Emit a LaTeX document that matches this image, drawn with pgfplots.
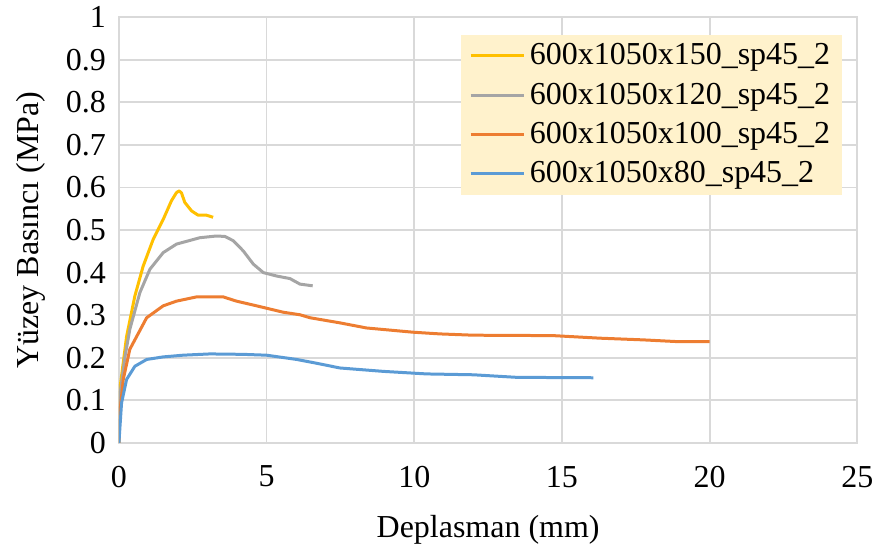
\documentclass[border=0pt]{standalone}
\usepackage{fontspec}
\setmainfont{Liberation Serif}
\usepackage{pgfplots}
\pgfplotsset{compat=1.18}
\definecolor{cY}{HTML}{FFC000}
\definecolor{cG}{HTML}{A5A5A5}
\definecolor{cO}{HTML}{ED7D31}
\definecolor{cB}{HTML}{5B9BD5}
\definecolor{legfill}{HTML}{FFF2CC}
\definecolor{gridc}{HTML}{D9D9D9}
\begin{document}
\begin{tikzpicture}
\begin{axis}[
  name=ax,
  scale only axis,
  width=369.5pt, height=213pt,
  xmin=0, xmax=25, ymin=0, ymax=1,
  xtick={0,5,10,15,20,25},
  ytick={0,0.1,0.2,0.3,0.4,0.5,0.6,0.7,0.8,0.9,1},
  yticklabels={0,0.1,0.2,0.3,0.4,0.5,0.6,0.7,0.8,0.9,1},
  xticklabels={0,5,10,15,20,25},
  major tick length=0pt,
  grid=major,
  major grid style={draw=gridc, line width=0.9pt},
  axis line style={draw=gridc, line width=0.9pt},
  tick label style={font=\fontsize{16}{19}\selectfont},
  yticklabel style={xshift=-3pt},
  xticklabel style={yshift=-8pt},
  label style={font=\fontsize{16}{19}\selectfont},
  xlabel={Deplasman (mm)},
  ylabel={Yüzey Basıncı (MPa)},
  xlabel style={yshift=-7pt},
  ylabel style={yshift=3.5pt},
  legend cell align=left,
  legend style={at={(rel axis cs:0.98,0.96)}, anchor=north east,
    fill=legfill, draw=none, font=\fontsize{16}{19}\selectfont,
    row sep=3.5pt, inner xsep=4pt, inner ysep=2.5pt},
  legend image code/.code={\draw[#1, line width=1.5pt] (0,0) -- (27pt,0);},
  every axis plot/.append style={line width=1.5pt, line join=round},
]
\addplot[cY] coordinates {(0,0) (0.03,0.125) (0.26,0.25) (0.54,0.345) (0.82,0.415) (1.16,0.478) (1.5,0.525) (1.78,0.569) (1.95,0.588) (2.04,0.592) (2.12,0.587) (2.23,0.565) (2.46,0.545) (2.68,0.535) (2.96,0.535) (3.19,0.53)};
\addlegendentry{600x1050x150\_sp45\_2}
\addplot[cG] coordinates {(0,0) (0.05,0.12) (0.2,0.2) (0.37,0.267) (0.71,0.353) (1.05,0.408) (1.5,0.447) (1.95,0.467) (2.74,0.482) (3.3,0.486) (3.59,0.485) (3.87,0.475) (4.21,0.451) (4.55,0.42) (4.89,0.4) (5.34,0.392) (5.79,0.386) (6.13,0.373) (6.56,0.369)};
\addlegendentry{600x1050x120\_sp45\_2}
\addplot[cO] coordinates {(0,0) (0.02,0.063) (0.15,0.15) (0.37,0.22) (0.94,0.294) (1.5,0.322) (1.95,0.333) (2.63,0.343) (3.53,0.343) (3.98,0.333) (4.66,0.322) (5.56,0.307) (6.13,0.301) (6.47,0.294) (7.48,0.282) (8.38,0.27) (9.96,0.26) (10.87,0.256) (11.99,0.253) (14.7,0.252) (16.28,0.246) (17.75,0.242) (18.88,0.238) (20.0,0.238)};
\addlegendentry{600x1050x100\_sp45\_2}
\addplot[cB] coordinates {(0,0) (0.09,0.094) (0.26,0.149) (0.54,0.18) (0.94,0.196) (1.5,0.202) (2.17,0.206) (3.08,0.209) (4.21,0.208) (5.0,0.206) (6.02,0.196) (6.7,0.187) (7.48,0.176) (8.95,0.168) (10.42,0.162) (12.0,0.16) (13.46,0.154) (16.06,0.153)};
\addlegendentry{600x1050x80\_sp45\_2}
\end{axis}
\path (ax.south west) +(-59.5pt,-51pt) (ax.north east) +(11pt,8.5pt);
\end{tikzpicture}
\end{document}
